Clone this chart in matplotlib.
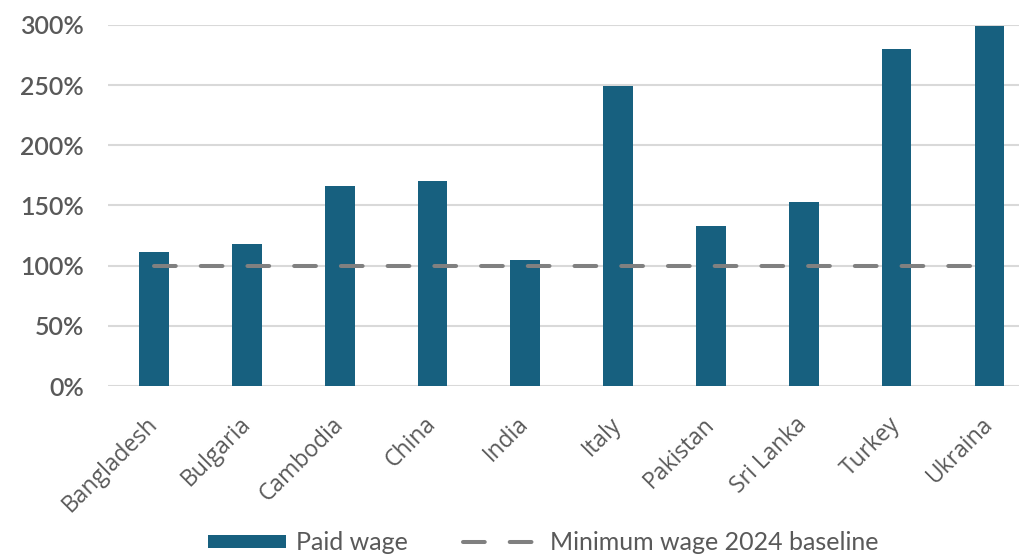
import numpy as np
import matplotlib
matplotlib.use("Agg")
import matplotlib.pyplot as plt

# Paid wage relative to the 2024 minimum wage
countries = ["Bangladesh", "Bulgaria", "Cambodia", "China", "India",
             "Italy", "Pakistan", "Sri Lanka", "Turkey", "Ukraina"]
paid_wage = [111, 118, 166, 170, 105, 249, 133, 153, 280, 299]
baseline = [100] * len(countries)
y_ticks = [0, 50, 100, 150, 200, 250, 300]

bar_color = "#17607f"
line_color = "#808080"
grid_color = "#d9d9d9"
text_color = "#595959"

fig = plt.figure(figsize=(10.2, 5.55), dpi=100)
ax = fig.add_axes([0.1055, 0.3045, 0.8945, 0.6505])

x = np.arange(len(countries))
bars = ax.bar(x, paid_wage, width=0.32, color=bar_color, zorder=2, label="Paid wage")
line, = ax.plot(x, baseline, color=line_color, lw=2.9, dashes=(5.4, 6.2),
                dash_capstyle="round", zorder=3, label="Minimum wage 2024 baseline")

ax.set_xlim(-0.5, 9.33)
ax.set_ylim(0, 300)
ax.set_yticks(y_ticks)
ax.set_yticklabels([f"{v}%" for v in y_ticks], fontfamily="Lato", fontsize=18,
                   color=text_color, fontweight="semibold")
ax.set_xticks(x)
ax.set_xticklabels(countries, rotation=45, ha="right", va="center",
                   rotation_mode="anchor", fontfamily="Open Sans", fontsize=16.5,
                   color=text_color)
ax.tick_params(axis="y", length=0, pad=17)
ax.tick_params(axis="x", length=0, pad=25)

ax.grid(axis="y", color=grid_color, lw=1.5, zorder=0)
for s in ax.spines.values():
    s.set_visible(False)

leg = fig.legend([bars, line], ["Paid wage", "Minimum wage 2024 baseline"],
                 loc="center", bbox_to_anchor=(0.533, 0.022), ncol=2, frameon=False,
                 prop={"family": "Lato", "size": 18}, handlelength=3.1,
                 handleheight=0.45, handletextpad=0.4, columnspacing=2.2)
for t in leg.get_texts():
    t.set_color(text_color)

fig.savefig("out.png", dpi=100)
